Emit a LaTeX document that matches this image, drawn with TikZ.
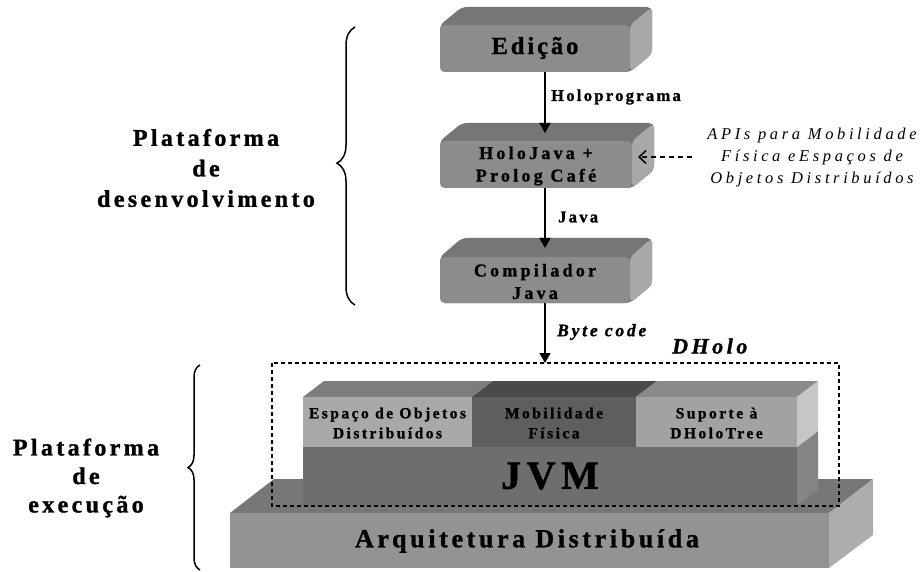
\documentclass[tikz,border=0pt]{standalone}
\usepackage{fontspec}
\setmainfont{Liberation Serif}
\newfontfamily\lsA[LetterSpace=12, BoldFeatures={FakeBold=1.2}]{Liberation Serif}
\newfontfamily\lsB[LetterSpace=14, BoldFeatures={FakeBold=1.2}]{Liberation Serif}
\newfontfamily\lsC[LetterSpace=16, BoldFeatures={FakeBold=1.2}, BoldItalicFeatures={FakeBold=1.2}]{Liberation Serif}
\newfontfamily\lsD[LetterSpace=18, BoldFeatures={FakeBold=1.2}]{Liberation Serif}
\newfontfamily\lsE[LetterSpace=22]{Liberation Serif}
\usetikzlibrary{arrows.meta,decorations.pathreplacing}
\definecolor{tfront}{HTML}{8C8C8C}
\definecolor{ttop}{HTML}{767676}
\definecolor{tside}{HTML}{A8A8A8}
\definecolor{espf}{HTML}{A9A9A9}
\definecolor{espt}{HTML}{7D7D7D}
\definecolor{mobf}{HTML}{5E5E5E}
\definecolor{mobt}{HTML}{4A4A4A}
\definecolor{supf}{HTML}{A2A2A2}
\definecolor{supt}{HTML}{8A8A8A}
\definecolor{sups}{HTML}{C6C6C6}
\definecolor{jvmf}{HTML}{6E6E6E}
\definecolor{jvms}{HTML}{848484}
\definecolor{arqf}{HTML}{939393}
\definecolor{arqt}{HTML}{777777}
\definecolor{arqs}{HTML}{ADADAD}
\newcommand\fEd{\lsA\bfseries\fontsize{24.5}{26}\selectfont}
\newcommand\fBox{\lsD\bfseries\fontsize{18}{22.5}\selectfont}
\newcommand\fLab{\lsB\bfseries\fontsize{16.5}{18}\selectfont}
\newcommand\fPlat{\lsB\bfseries\fontsize{24}{30.5}\selectfont}
\newcommand\fPlatB{\lsB\bfseries\fontsize{24}{28.5}\selectfont}
\newcommand\fApi{\lsE\itshape\fontsize{16.5}{22}\selectfont}
\newcommand\fByte{\lsC\bfseries\itshape\fontsize{17.5}{18}\selectfont}
\newcommand\fDH{\lsC\bfseries\itshape\fontsize{22}{24}\selectfont}
\newcommand\fTier{\lsC\bfseries\fontsize{15.5}{20}\selectfont}
\newcommand\fJVM{\lsB\bfseries\fontsize{40}{42}\selectfont}
\newcommand\fArq{\lsB\bfseries\fontsize{26}{28}\selectfont}
% x1 x2 yback yfront ybottom
\newcommand\topbox[5]{%
  \fill[ttop, rounded corners=5pt] (#1,#4) -- (#1+22,#3) -- (#2+22,#3) -- (#2+22,#5-18) -- (#2,#5) -- (#1,#5) -- cycle;
  \fill[tside, rounded corners=5pt] (#2,#4) -- (#2+22,#3) -- (#2+22,#5-18) -- (#2,#5) -- cycle;
  \fill[tfront, rounded corners=5pt] (#1,#4) rectangle (#2,#5);
}
\begin{document}
\begin{tikzpicture}[x=1pt,y=-1pt,
  txt/.style={inner sep=0pt, align=center, text=black},
  conn/.style={line width=1.5pt, -{Triangle[length=10pt,width=11pt]}},
  dasharrow/.style={line width=1.5pt, dash pattern=on 5pt off 4pt, -{Straight Barb[length=7pt,width=13pt,line width=1.5pt]}},
  dbox/.style={line width=1.2pt, dash pattern=on 4pt off 3pt},
  bracestyle/.style={line width=1.5pt, decorate}]
\useasboundingbox (0,0) rectangle (924,572);
\fill[white] (0,0) rectangle (924,572);

% top boxes
\topbox{440}{630}{7}{25}{72}
\topbox{440}{632}{123}{141}{188}
\topbox{440}{630}{238}{257}{303}

\node[txt, font=\fEd] (edicao) at (535,48) {Edição};
\node[txt, font=\fBox] (holojava) at (536,166) {HoloJava +\\Prolog Café};
\node[txt, font=\fBox] (compilador) at (535,281.5) {Compilador\\Java};

\coordinate (edB) at (545,72);
\coordinate (hjT) at (545,133);
\coordinate (hjB) at (545,188);
\coordinate (coT) at (545,248);
\coordinate (coB) at (545,303);
\coordinate (dhT) at (545,363);
\coordinate (hjR) at (638,157);
\coordinate (apiL) at (692,157);

\draw[conn] (edB) -- (hjT);
\draw[conn] (hjB) -- (coT);

\node[txt, font=\fLab, anchor=west] (lholo) at (551,97) {Holoprograma};
\node[txt, font=\fLab, anchor=west] (ljava) at (558,217) {Java};

\node[txt, font=\fApi] (api) at (812,158) {APIs para Mobilidade\\Física eEspaços de\\Objetos Distribuídos};
\draw[dasharrow] (apiL) -- (hjR);

% bottom stack
\fill[arqt] (230,513) -- (274,479) -- (873,479) -- (829,513) -- cycle;
\fill[arqs] (829,513) -- (873,479) -- (873,535) -- (829,568) -- cycle;
\fill[arqf] (230,513) rectangle (829,568);

\fill[jvms] (797,447) -- (818,431) -- (818,490) -- (797,506) -- cycle;
\fill[jvmf] (303,447) rectangle (797,506);

\fill[espt] (303,397) -- (324,381) -- (493,381) -- (472,397) -- cycle;
\fill[mobt] (472,397) -- (493,381) -- (657,381) -- (636,397) -- cycle;
\fill[supt] (636,397) -- (657,381) -- (818,381) -- (797,397) -- cycle;
\fill[sups] (797,397) -- (818,381) -- (818,431) -- (797,447) -- cycle;
\fill[espf] (303,397) rectangle (472,447);
\fill[mobf] (472,397) rectangle (636,447);
\fill[supf] (636,397) rectangle (797,447);

\node[txt, font=\fTier] (espaco) at (387.5,423) {Espaço de Objetos\\Distribuídos};
\node[txt, font=\fTier] (mobil) at (554,423) {Mobilidade\\Física};
\node[txt, font=\fTier] (suporte) at (716.5,423) {Suporte à\\DHoloTree};
\node[txt, font=\fJVM] (jvm) at (550,476) {JVM};
\node[txt, font=\fArq] (arq) at (527,541) {Arquitetura Distribuída};

\draw[dbox] (272,363) rectangle (839,506);
\draw[conn] (coB) -- (dhT);
\node[txt, font=\fByte, anchor=west] (lbyte) at (557,332) {Byte code};
\node[txt, font=\fDH, anchor=west] (ldholo) at (672,346) {DHolo};

% left labels and braces
\node[txt, font=\fPlat] (pdev) at (206,168) {Plataforma\\de\\desenvolvimento};
\node[txt, font=\fPlatB] (pexe) at (86,478) {Plataforma\\de\\execução};
\coordinate (b1a) at (355,305);
\coordinate (b1b) at (355,27);
\coordinate (b2a) at (200,570);
\coordinate (b2b) at (200,365);
\draw[bracestyle, decoration={brace, amplitude=18pt, aspect=0.51}] (b1a) -- (b1b);
\draw[bracestyle, decoration={brace, amplitude=12pt, aspect=0.5}] (b2a) -- (b2b);
\end{tikzpicture}
\end{document}
